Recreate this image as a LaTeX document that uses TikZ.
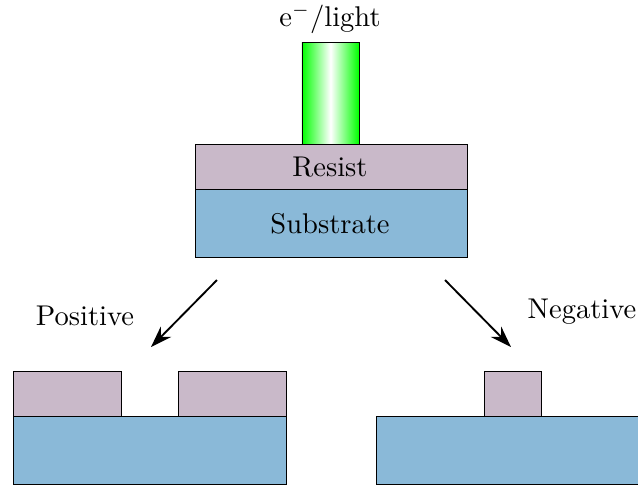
\documentclass[tikz,border=0pt]{standalone}
\usetikzlibrary{arrows.meta}
\definecolor{resistc}{RGB}{201,185,201}
\definecolor{substc}{RGB}{138,185,216}
\begin{document}
\begin{tikzpicture}[x=0.375pt,y=-0.375pt,
  resist/.style={draw=black,fill=resistc,line width=0.3pt},
  subst/.style={draw=black,fill=substc,line width=0.3pt},
  beam/.style={draw=black,left color=green,right color=green,middle color=white,line width=0.3pt},
  lbl/.style={inner sep=0pt,font=\fontsize{10.7}{13}\selectfont},
  flow/.style={-{Stealth[length=8pt,width=5.5pt]},line width=0.7pt}]
\useasboundingbox (0,0) rectangle (638,485);
\clip (0,0) rectangle (638,485);
% top stack
\path[beam] (302,42) rectangle (359,144);
\path[resist] (195,144) rectangle (467,189);
\path[subst] (195,189) rectangle (467,257);
\node[lbl] (src) at (330,18.5) {e$^{-}$/light};
\node[lbl] (res) at (330,167) {Resist};
\node[lbl] (sub) at (330,224) {Substrate};
% arrows
\coordinate (l1) at (217,280);
\coordinate (l2) at (151,347);
\coordinate (r1) at (445,280);
\coordinate (r2) at (511,347);
\draw[flow] (l1) -- (l2);
\draw[flow] (r1) -- (r2);
\node[lbl] (pos) at (85,316) {Positive};
\node[lbl] (neg) at (582,312) {Negative};
% positive result
\path[subst] (13,416) rectangle (286,484);
\path[resist] (13,371) rectangle (121,416);
\path[resist] (178,371) rectangle (286,416);
% negative result
\path[subst] (376,416) rectangle (649,484);
\path[resist] (484,371) rectangle (541,416);
\end{tikzpicture}
\end{document}
